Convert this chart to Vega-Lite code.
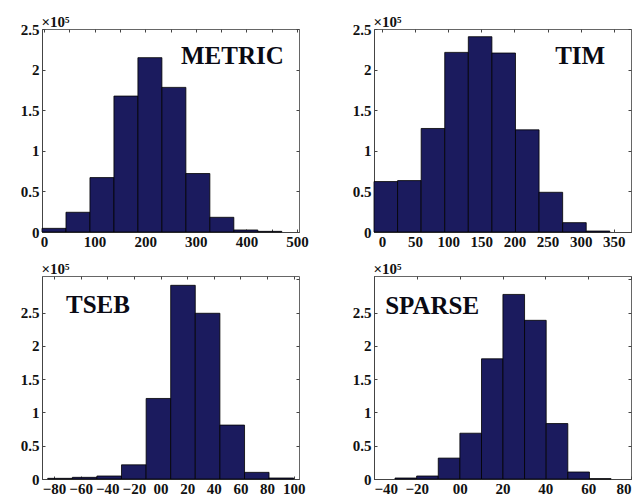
{
  "$schema": "https://vega.github.io/schema/vega-lite/v6.json",
  "padding": {"left": 19, "top": 13, "right": 0, "bottom": 0},
  "background": "white",
  "datasets": {
    "metric": [
      {"x0": -4.0, "x1": 43.4, "n": 4500},
      {"x0": 43.4, "x1": 90.8, "n": 24300},
      {"x0": 90.8, "x1": 138.2, "n": 67000},
      {"x0": 138.2, "x1": 185.6, "n": 167400},
      {"x0": 185.6, "x1": 233.0, "n": 214700},
      {"x0": 233.0, "x1": 280.4, "n": 178100},
      {"x0": 280.4, "x1": 327.8, "n": 72000},
      {"x0": 327.8, "x1": 375.2, "n": 18100},
      {"x0": 375.2, "x1": 422.6, "n": 2500},
      {"x0": 422.6, "x1": 470.0, "n": 800}
    ],
    "tim": [
      {"x0": -12.0, "x1": 23.6, "n": 62100},
      {"x0": 23.6, "x1": 59.2, "n": 63300},
      {"x0": 59.2, "x1": 94.8, "n": 127500},
      {"x0": 94.8, "x1": 130.4, "n": 221200},
      {"x0": 130.4, "x1": 166.0, "n": 240500},
      {"x0": 166.0, "x1": 201.6, "n": 220400},
      {"x0": 201.6, "x1": 237.2, "n": 125800},
      {"x0": 237.2, "x1": 272.8, "n": 48900},
      {"x0": 272.8, "x1": 308.4, "n": 11500},
      {"x0": 308.4, "x1": 344.0, "n": 1200}
    ],
    "tseb": [
      {"x0": -84.7, "x1": -66.2, "n": 1000},
      {"x0": -66.2, "x1": -47.8, "n": 2500},
      {"x0": -47.8, "x1": -29.3, "n": 4500},
      {"x0": -29.3, "x1": -10.8, "n": 21300},
      {"x0": -10.8, "x1": 7.65, "n": 121000},
      {"x0": 7.65, "x1": 26.1, "n": 291000},
      {"x0": 26.1, "x1": 44.6, "n": 249000},
      {"x0": 44.6, "x1": 63.1, "n": 81000},
      {"x0": 63.1, "x1": 81.5, "n": 10000},
      {"x0": 81.5, "x1": 100.0, "n": 1500}
    ],
    "sparse": [
      {"x0": -30.2, "x1": -20.1, "n": 1500},
      {"x0": -20.1, "x1": -10.0, "n": 4500},
      {"x0": -10.0, "x1": 0.1, "n": 31400},
      {"x0": 0.1, "x1": 10.2, "n": 68800},
      {"x0": 10.2, "x1": 20.2, "n": 180600},
      {"x0": 20.2, "x1": 30.3, "n": 277300},
      {"x0": 30.3, "x1": 40.4, "n": 238400},
      {"x0": 40.4, "x1": 50.5, "n": 83300},
      {"x0": 50.5, "x1": 60.6, "n": 10500},
      {"x0": 60.6, "x1": 70.7, "n": 500}
    ]
  },
  "columns": 2,
  "spacing": {"row": 44, "column": 75},
  "bounds": "flush",
  "concat": [
    {
      "width": 257, "height": 203,
      "layer": [
        {
          "data": {"name": "metric"},
          "mark": {"type": "rect", "fill": "#1b1b5e", "stroke": "#000", "strokeWidth": 0.8},
          "encoding": {
            "x": {"field": "x0", "type": "quantitative", "scale": {"domain": [-4, 504], "nice": false, "zero": false},
                  "axis": {"orient": "bottom", "values": [0, 50, 100, 150, 200, 250, 300, 350, 400, 450, 500], "labelExpr": "datum.value % 100 == 0 ? datum.label : ''", "title": null}},
            "x2": {"field": "x1"},
            "y": {"field": "n", "type": "quantitative", "scale": {"domain": [0, 250000], "nice": false},
                  "axis": {"orient": "left", "values": [0, 50000, 100000, 150000, 200000, 250000], "labelExpr": "format(datum.value / 100000, '~g')", "title": "×10⁵"}},
            "y2": {"datum": 0}
          }
        },
        {
          "data": {"values": [{"tx": 474, "ty": 206900, "label": "METRIC"}]},
          "mark": {"type": "text", "align": "right", "baseline": "alphabetic", "font": "Liberation Serif", "fontWeight": "bold", "fontSize": 25, "color": "#0a0a14"},
          "encoding": {
            "x": {"field": "tx", "type": "quantitative", "axis": {"orient": "top", "values": [0, 50, 100, 150, 200, 250, 300, 350, 400, 450, 500], "labels": false, "domain": false, "title": null}},
            "y": {"field": "ty", "type": "quantitative", "axis": {"orient": "right", "values": [0, 50000, 100000, 150000, 200000, 250000], "labels": false, "domain": false, "title": null}},
            "text": {"field": "label"}
          }
        }
      ],
      "resolve": {"axis": {"x": "independent", "y": "independent"}}
    },
    {
      "width": 257, "height": 203,
      "layer": [
        {
          "data": {"name": "tim"},
          "mark": {"type": "rect", "fill": "#1b1b5e", "stroke": "#000", "strokeWidth": 0.8},
          "encoding": {
            "x": {"field": "x0", "type": "quantitative", "scale": {"domain": [-12, 376], "nice": false, "zero": false},
                  "axis": {"orient": "bottom", "values": [0, 50, 100, 150, 200, 250, 300, 350], "title": null}},
            "x2": {"field": "x1"},
            "y": {"field": "n", "type": "quantitative", "scale": {"domain": [0, 250000], "nice": false},
                  "axis": {"orient": "left", "values": [0, 50000, 100000, 150000, 200000, 250000], "labelExpr": "format(datum.value / 100000, '~g')", "title": "×10⁵"}},
            "y2": {"datum": 0}
          }
        },
        {
          "data": {"values": [{"tx": 337, "ty": 206900, "label": "TIM"}]},
          "mark": {"type": "text", "align": "right", "baseline": "alphabetic", "font": "Liberation Serif", "fontWeight": "bold", "fontSize": 25, "color": "#0a0a14"},
          "encoding": {
            "x": {"field": "tx", "type": "quantitative", "axis": {"orient": "top", "values": [0, 50, 100, 150, 200, 250, 300, 350], "labels": false, "domain": false, "title": null}},
            "y": {"field": "ty", "type": "quantitative", "axis": {"orient": "right", "values": [0, 50000, 100000, 150000, 200000, 250000], "labels": false, "domain": false, "title": null}},
            "text": {"field": "label"}
          }
        }
      ],
      "resolve": {"axis": {"x": "independent", "y": "independent"}}
    },
    {
      "width": 257, "height": 203,
      "layer": [
        {
          "data": {"name": "tseb"},
          "mark": {"type": "rect", "fill": "#1b1b5e", "stroke": "#000", "strokeWidth": 0.8},
          "encoding": {
            "x": {"field": "x0", "type": "quantitative", "scale": {"domain": [-89, 104], "nice": false, "zero": false},
                  "axis": {"orient": "bottom", "values": [-80, -60, -40, -20, 0, 20, 40, 60, 80, 100], "labelExpr": "datum.value == 0 ? '00' : datum.label", "title": null}},
            "x2": {"field": "x1"},
            "y": {"field": "n", "type": "quantitative", "scale": {"domain": [0, 305000], "nice": false},
                  "axis": {"orient": "left", "values": [0, 50000, 100000, 150000, 200000, 250000], "labelExpr": "format(datum.value / 100000, '~g')", "title": "×10⁵"}},
            "y2": {"datum": 0}
          }
        },
        {
          "data": {"values": [{"tx": -71, "ty": 249400, "label": "TSEB"}]},
          "mark": {"type": "text", "align": "left", "baseline": "alphabetic", "font": "Liberation Serif", "fontWeight": "bold", "fontSize": 25, "color": "#0a0a14"},
          "encoding": {
            "x": {"field": "tx", "type": "quantitative", "axis": {"orient": "top", "values": [-80, -60, -40, -20, 0, 20, 40, 60, 80, 100], "labels": false, "domain": false, "title": null}},
            "y": {"field": "ty", "type": "quantitative", "axis": {"orient": "right", "values": [0, 50000, 100000, 150000, 200000, 250000, 300000], "labels": false, "domain": false, "title": null}},
            "text": {"field": "label"}
          }
        }
      ],
      "resolve": {"axis": {"x": "independent", "y": "independent"}}
    },
    {
      "width": 257, "height": 203,
      "layer": [
        {
          "data": {"name": "sparse"},
          "mark": {"type": "rect", "fill": "#1b1b5e", "stroke": "#000", "strokeWidth": 0.8},
          "encoding": {
            "x": {"field": "x0", "type": "quantitative", "scale": {"domain": [-40, 80], "nice": false, "zero": false},
                  "axis": {"orient": "bottom", "values": [-40, -20, 0, 20, 40, 60, 80], "labelExpr": "datum.value == 0 ? '00' : datum.label", "title": null}},
            "x2": {"field": "x1"},
            "y": {"field": "n", "type": "quantitative", "scale": {"domain": [0, 305000], "nice": false},
                  "axis": {"orient": "left", "values": [0, 50000, 100000, 150000, 200000, 250000], "labelExpr": "format(datum.value / 100000, '~g')", "title": "×10⁵"}},
            "y2": {"datum": 0}
          }
        },
        {
          "data": {"values": [{"tx": -34.8, "ty": 247900, "label": "SPARSE"}]},
          "mark": {"type": "text", "align": "left", "baseline": "alphabetic", "font": "Liberation Serif", "fontWeight": "bold", "fontSize": 25, "color": "#0a0a14"},
          "encoding": {
            "x": {"field": "tx", "type": "quantitative", "axis": {"orient": "top", "values": [-40, -20, 0, 20, 40, 60, 80], "labels": false, "domain": false, "title": null}},
            "y": {"field": "ty", "type": "quantitative", "axis": {"orient": "right", "values": [0, 50000, 100000, 150000, 200000, 250000, 300000], "labels": false, "domain": false, "title": null}},
            "text": {"field": "label"}
          }
        }
      ],
      "resolve": {"axis": {"x": "independent", "y": "independent"}}
    }
  ],
  "config": {
    "view": {"stroke": "#666", "strokeWidth": 1},
    "axis": {
      "grid": false,
      "labelFont": "Liberation Serif",
      "labelFontWeight": "bold",
      "labelFontSize": 15,
      "labelColor": "#111",
      "labelPadding": 6,
      "labelOverlap": false,
      "tickSize": -3,
      "tickColor": "#444",
      "domainColor": "#444",
      "titleFont": "Liberation Serif",
      "titleFontWeight": "bold",
      "titleFontSize": 15,
      "titleColor": "#111"
    },
    "axisLeft": {"titleAngle": 0, "titleAlign": "left", "titleBaseline": "alphabetic", "titleX": -1, "titleY": -3},
    "axisBottom": {"labelPadding": 5},
    "axisY": {"labelPadding": 6}
  }
}
